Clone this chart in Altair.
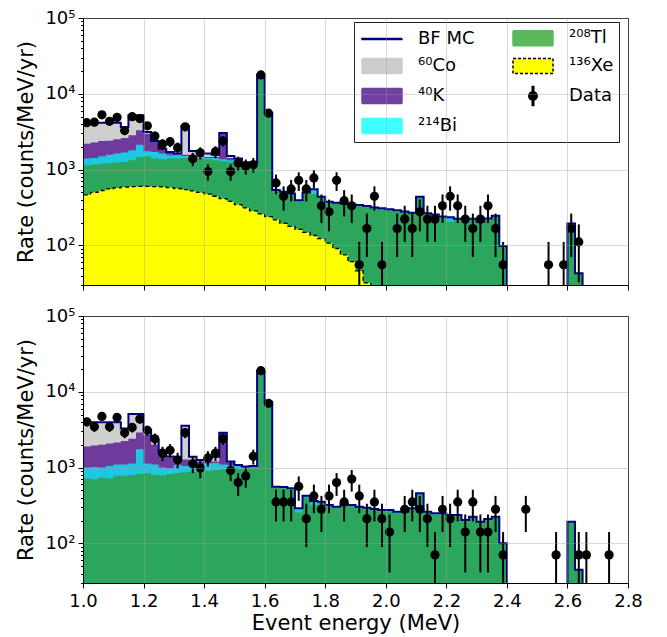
import altair as alt
import numpy as np
import pandas as pd

# ---------------- binning ----------------
BIN_LO = 1.0
BIN_W = 0.025
N_BINS = 72
FLOOR = 1.0  # plotting baseline, below the visible axis range

X_TICKS = [1.0, 1.2, 1.4, 1.6, 1.8, 2.0, 2.2, 2.4, 2.6, 2.8]

# ---------------- top panel (per-bin rates, counts/MeV/yr) ----------------
top_xe = [465, 500, 530, 555, 573, 587, 596, 600, 600, 597, 590, 578, 563, 545, 523, 500,
          475, 445, 415, 380, 345, 313, 285, 260, 239, 217, 195, 178, 163, 148, 135, 123,
          107, 91, 75, 61, 46, 32, 22, 12] + [0] * 32
top_tl = [678, 664, 669, 660, 663, 675, 734, 869, 900, 799, 781, 818, 833, 880, 902, 896,
          896, 885, 874, 882, 854, 886, 914, 17470, 5281, 298, 295, 287, 212, 327, 340, 295,
          255, 261, 270, 272, 282, 286, 283, 288, 290, 280, 271, 261, 425, 256, 246, 231,
          205, 215, 216, 216, 198, 218, 238, 95, 0, 0, 0, 0, 0, 0, 0, 0,
          190, 42, 0, 0, 0, 0, 0, 0]
top_bi = [253, 261, 301, 360, 388, 412, 468, 663, 245, 314, 253, 150, 150, 88, 75, 73,
          54, 95, 82, 68, 63, 37, 16, 50, 50, 21, 19, 18, 20, 23, 77, 19,
          14, 13, 12, 12, 12, 12, 10, 10, 10, 10, 9, 9, 12, 9, 9, 9,
          30, 10, 9, 9, 7, 8, 8, 3, 0, 0, 0, 0, 0, 0, 0, 0,
          5, 1, 0, 0, 0, 0, 0, 0]
top_k = [802, 858, 875, 834, 887, 939, 1040, 1165, 1233, 602, 230, 128, 51, 62, 46, 56,
         44, 44, 1607, 95, 68, 4, 25] + [0] * 49
top_co = [1952, 1867, 1775, 1741, 1639, 1034, 2362, 1903, 156, 63, 36, 36, 27, 2182, 216, 149,
          155, 106, 62, 88, 66, 10, 10] + [0] * 49
top_counts = [75, 76, 95, 78, 88, 59, 90, 85, 68, 50, 39, 42, 35, 66, 25, 30,
              17, 31, 43, 17, 22, 20, 21, 320, 100, 12, 8, 10, 13, 10, 14, 6,
              5, 13, 7, 6, 1, 3, 8, 1, 0, 3, 4, 3, 5, 4, 4, 6,
              8, 6, 4, 3, 4, 6, 3, 1, 0, 0, 0, 0, 0, 1, 0, 1,
              3, 2, 0, 0, 0, 0, 0, 0]
top_rate_per_count = 55.5

# ---------------- bottom panel ----------------
bot_tl = [720, 700, 740, 720, 780, 780, 800, 820, 840, 800, 790, 820, 850, 870, 880, 900,
          900, 920, 940, 940, 960, 960, 990, 18900, 7340, 538, 533, 511, 255, 405, 320, 340,
          308, 293, 314, 308, 293, 283, 274, 265, 265, 252, 252, 279, 445, 252, 239, 239,
          210, 228, 196, 216, 186, 202, 216, 97, 0, 0, 0, 0, 0, 0, 0, 0,
          188, 44, 0, 0, 0, 0, 0, 0]
bot_bi = [280, 320, 260, 330, 320, 320, 330, 930, 290, 300, 210, 160, 230, 180, 170, 180,
          230, 230, 160, 140, 80, 50, 20, 100, 60, 22, 22, 21, 35, 21, 42, 15,
          13, 12, 13, 13, 12, 12, 11, 11, 11, 10, 10, 11, 12, 10, 10, 10,
          27, 9, 8, 9, 7, 8, 9, 3, 0, 0, 0, 0, 0, 0, 0, 0,
          5, 1, 0, 0, 0, 0, 0, 0]
bot_k = [900, 930, 1000, 1030, 1050, 1150, 1270, 1150, 1570, 900, 500, 370, 200, 230, 180, 120,
         70, 50, 1730, 100, 40, 10, 10] + [0] * 49
bot_co = [2050, 2000, 1950, 1870, 1800, 1040, 2690, 2190, 430, 310, 100, 50, 50, 2290, 160, 60,
          120, 190, 50, 20, 0, 10, 30] + [0] * 49
bot_counts = [57, 49, 67, 49, 65, 41, 48, 62, 44, 34, 22, 24, 18, 41, 16, 14,
              19, 22, 34, 13, 9, 11, 20, 269, 100, 5, 5, 5, 8, 3, 6, 4,
              6, 9, 5, 10, 6, 3, 5, 3, 2, 0, 4, 5, 4, 3, 1, 4,
              3, 5, 2, 5, 2, 2, 4, 1, 0, 0, 4, 0, 0, 0, 1, 0,
              0, 1, 1, 0, 0, 1, 0, 0]
bot_rate_per_count = 70.5

# ---------------- styling ----------------
C_NAVY = "#00007f"
C_TL = "#2ba65c"
C_BI = "#1ec8e2"
C_K = "#6e3b9c"
C_CO = "#cfcfcf"
C_XE = "#ffff00"

# legend entries, listed column by column (legend has 2 columns)
LEG_LABELS = ["BF MC", "⁶⁰Co", "⁴⁰K", "²¹⁴Bi", "²⁰⁸Tl", "¹³⁶Xe", "Data"]
LEG_FILL = [C_NAVY, "#cccccc", "#7040a0", "#40ffff", "#5cb85c", C_XE, "black"]
LEG_STROKE = [C_NAVY, "#cccccc", "#7040a0", "#40ffff", "#5cb85c", "black", "black"]
LEG_DASH = [[1, 0], [1, 0], [1, 0], [1, 0], [1, 0], [3, 2], [1, 0]]
RECT = "M-2,-0.75H2V0.75H-2Z"
LINE = "M-2,-0.04H2V0.04H-2Z"
DATA = ("M-0.08,-0.95H0.08V0.95H-0.08Z M0.42,0 A0.42,0.42 0 1,1 -0.42,0 "
        "A0.42,0.42 0 1,1 0.42,0 Z")
LEG_SHAPE = [LINE, RECT, RECT, RECT, RECT, RECT, DATA]

W, H = 545, 267

edges = BIN_LO + BIN_W * np.arange(N_BINS + 1)
centers = BIN_LO + BIN_W * (np.arange(N_BINS) + 0.5)

xscale = alt.Scale(domain=[1.0, 2.8], nice=False, zero=False)
yscale = alt.Scale(type="log", domain=[30, 100000], nice=False)

y_ticks = [v * 10 ** e for e in range(1, 5) for v in range(1, 10) if v * 10 ** e >= 30] + [100000]
major_test = "indexof([100, 1000, 10000, 100000], datum.value) >= 0"
y_axis = alt.Axis(
    values=y_ticks,
    title="Rate (counts/MeV/yr)",
    labelExpr=("datum.value == 100 ? '10²' : datum.value == 1000 ? '10³' : "
               "datum.value == 10000 ? '10⁴' : datum.value == 100000 ? '10⁵' : ''"),
    labelOverlap=False,
    tickSize={"condition": {"test": major_test, "value": 5}, "value": 2.5},
    gridOpacity={"condition": {"test": major_test, "value": 0.4}, "value": 0},
    labelPadding=3,
    titlePadding=8,
    zindex=1,
)


def step_frame(vals):
    v = list(vals) + [vals[-1]]
    return pd.DataFrame({"x": edges, "y": np.maximum(np.array(v, dtype=float), FLOOR), "base": FLOOR})


def panel(xe, tl, bi, k, co, counts, rate_per_count, bottom):
    xe = np.array(xe, dtype=float)
    cum_xe = xe
    cum_tl = cum_xe + np.array(tl, dtype=float)
    cum_bi = cum_tl + np.array(bi, dtype=float)
    cum_k = cum_bi + np.array(k, dtype=float)
    cum_co = cum_k + np.array(co, dtype=float)

    if bottom:
        x_axis = alt.Axis(values=X_TICKS, format=".1f", title="Event energy (MeV)", tickSize=5,
                          labelPadding=4, titlePadding=2, labelFlush=False, zindex=1,
                          gridOpacity=0.4)
    else:
        x_axis = alt.Axis(values=X_TICKS, labels=False, title=None, tickSize=5, zindex=1,
                          gridOpacity=0.4)

    def enc(ch):
        return ch.encode(
            x=alt.X("x:Q", scale=xscale, axis=x_axis),
            y=alt.Y("y:Q", scale=yscale, axis=y_axis),
        )

    layers = []
    for cum, col in [(cum_co, C_CO), (cum_k, C_K), (cum_bi, C_BI), (cum_tl, C_TL)]:
        layers.append(enc(alt.Chart(step_frame(cum)).mark_area(
            interpolate="step-after", color=col, clip=True, opacity=1)).encode(y2="base:Q"))
    if xe.sum() > 0:
        layers.append(enc(alt.Chart(step_frame(cum_xe)).mark_area(
            interpolate="step-after", color=C_XE, clip=True, opacity=1)).encode(y2="base:Q"))
        out = step_frame(cum_xe)
        out = pd.concat([pd.DataFrame({"x": [edges[0]], "y": [FLOOR], "base": [FLOOR]}), out],
                        ignore_index=True)
        out["o"] = np.arange(len(out))
        layers.append(enc(alt.Chart(out).mark_line(
            interpolate="step-after", color="black", strokeWidth=1.3, strokeDash=[4, 3],
            clip=True)).encode(order="o:Q"))
    layers.append(enc(alt.Chart(step_frame(cum_co)).mark_line(
        interpolate="step-after", color=C_NAVY, strokeWidth=2, clip=True)))

    n = np.array(counts, dtype=float)
    d = pd.DataFrame({
        "x": centers,
        "y": n * rate_per_count,
        "lo": np.maximum((n - np.sqrt(n)) * rate_per_count, FLOOR),
        "hi": (n + np.sqrt(n)) * rate_per_count,
        "n": n,
    })
    d = d[d["n"] > 0]
    layers.append(alt.Chart(d).mark_rule(color="black", strokeWidth=2, clip=True).encode(
        x=alt.X("x:Q", scale=xscale, axis=x_axis),
        y=alt.Y("lo:Q", scale=yscale, axis=y_axis),
        y2="hi:Q"))
    layers.append(enc(alt.Chart(d).mark_circle(color="black", size=85, opacity=1, clip=True)))

    if not bottom:
        leg = pd.DataFrame({"label": LEG_LABELS, "x": [edges[0]] * 7, "y": [FLOOR] * 7})
        layers.append(enc(alt.Chart(leg).mark_point(filled=True, opacity=1, size=400, clip=True,
                                                    strokeWidth=1.2)).encode(
            fill=alt.Fill("label:N", scale=alt.Scale(domain=LEG_LABELS, range=LEG_FILL),
                          legend=alt.Legend(
                              title=None, orient="none", legendX=271, legendY=4, columns=2,
                              columnPadding=35, rowPadding=6, symbolSize=400, symbolOffset=12,
                              labelOffset=25, labelFontSize=18, labelFont="DejaVu Sans",
                              labelColor="black", strokeColor="#222222", fillColor="white",
                              padding=5, symbolOpacity=1, labelLimit=200)),
            stroke=alt.Stroke("label:N", scale=alt.Scale(domain=LEG_LABELS, range=LEG_STROKE)),
            shape=alt.Shape("label:N", scale=alt.Scale(domain=LEG_LABELS, range=LEG_SHAPE)),
            strokeDash=alt.StrokeDash("label:N", scale=alt.Scale(domain=LEG_LABELS, range=LEG_DASH)),
        ))

    return alt.layer(*layers).properties(width=W, height=H)


top = panel(top_xe, top_tl, top_bi, top_k, top_co, top_counts, top_rate_per_count, False)
bot = panel([0] * N_BINS, bot_tl, bot_bi, bot_k, bot_co, bot_counts, bot_rate_per_count, True)

chart = alt.vconcat(top, bot, spacing=31, bounds="flush").resolve_scale(
    fill="independent", stroke="independent", shape="independent", strokeDash="independent"
).resolve_legend(
    fill="independent", stroke="independent", shape="independent", strokeDash="independent"
).properties(
    padding={"left": 7, "top": 0, "right": 5, "bottom": 5}
).configure(
    font="DejaVu Sans",
).configure_view(
    stroke="black", strokeWidth=1
).configure_axis(
    labelFont="DejaVu Sans", titleFont="DejaVu Sans",
    labelFontSize=18, titleFontSize=21, titleFontWeight="normal",
    labelColor="black", titleColor="black",
    domainColor="black", tickColor="black", gridColor="#a0a0a0", gridWidth=1,
)

chart.save("out.html", embed_options={"renderer": "svg", "actions": False})
